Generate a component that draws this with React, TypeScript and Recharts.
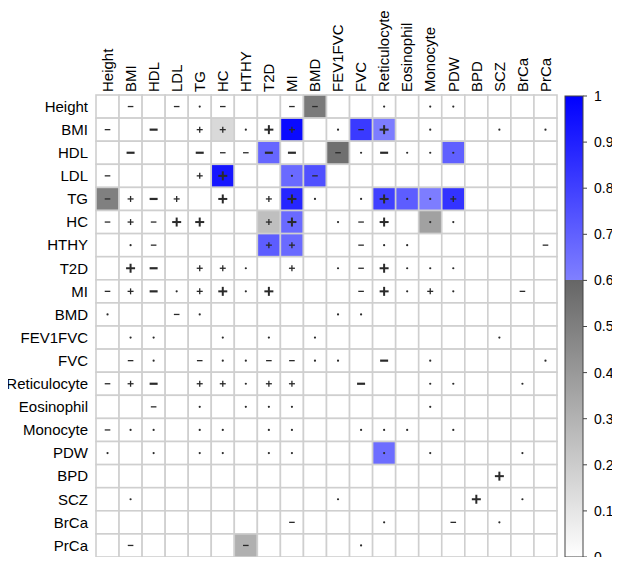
import React from 'react'
import { ScatterChart, Scatter, XAxis, YAxis } from 'recharts'

const traits = [
  'Height', 'BMI', 'HDL', 'LDL', 'TG', 'HC', 'HTHY', 'T2D', 'MI', 'BMD',
  'FEV1FVC', 'FVC', 'Reticulocyte', 'Eosinophil', 'Monocyte', 'PDW', 'BPD', 'SCZ', 'BrCa', 'PrCa',
]

// one string per row, one char per column
// P / p = big / small plus, M / m = big / small minus, . = dot, _ = nothing
const signs = [
  '_m_m.m__mm__._..____',
  'm_M_pp.Pp_.mP_.__._.',
  '_M__MmmMM_m.M...____',
  'm___pP__.m__________',
  'mpMp_P_pP._.P..p____',
  'mpmPP__pP_.mP_..____',
  '_.m____pp__m.._____m',
  '_PM_pp._p_.mP...____',
  'mpM.pP.P___mP.p.__m_',
  '.__m._____..________',
  '_..__._._._______.__',
  '_m._m..mm.._M_.____.',
  'mpM_pp.pp__M__..__._',
  '__m_._..._____._____',
  'm.._.._..__..._.____',
  '._._.._..___._.___._',
  '_________________P__',
  '_.________._____P_._',
  '________m___.__m_.__',
  '_m____m____.________',
]

// [row, col, value] for the shaded cells, everything else is 0
const shaded: [number, number, number][] = [
  [0, 9, 0.52], [1, 5, 0.15], [1, 8, 0.97], [1, 11, 0.82], [1, 12, 0.61],
  [2, 7, 0.68], [2, 10, 0.56], [2, 15, 0.7], [3, 5, 0.93], [3, 8, 0.67],
  [3, 9, 0.75], [4, 0, 0.5], [4, 8, 0.88], [4, 12, 0.8], [4, 13, 0.71],
  [4, 14, 0.61], [4, 15, 0.84], [5, 7, 0.25], [5, 8, 0.67], [5, 14, 0.37],
  [6, 7, 0.71], [6, 8, 0.67], [15, 12, 0.66], [19, 6, 0.31],
]

const colorTicks = [0, 0.1, 0.2, 0.3, 0.4, 0.5, 0.6, 0.7, 0.8, 0.9, 1]

const W = 620
const H = 565
const LEFT = 96
const TOP = 95
const PLOT_W = 461
const PLOT_H = 462
const CELL_W = PLOT_W / traits.length
const CELL_H = PLOT_H / traits.length

const cellColor = (v: number) => {
  if (v <= 0) return '#ffffff'
  if (v < 0.6) {
    const g = Math.round(255 - (v / 0.6) * 153)
    return `rgb(${g},${g},${g})`
  }
  const c = Math.round(((1 - v) / 0.4) * 128)
  return `rgb(${c},${c},255)`
}

const cells: { x: number; y: number; v: number; s: string }[] = []
traits.forEach((_, r) => {
  traits.forEach((__, c) => {
    const hit = shaded.find(d => d[0] === r && d[1] === c)
    cells.push({ x: c + 0.5, y: r + 0.5, v: hit ? hit[2] : 0, s: signs[r][c] })
  })
})

const centers = traits.map((_, i) => i + 0.5)

const Mark = ({ s, cx, cy }: { s: string; cx: number; cy: number }) => {
  const ink = '#2a2a2a'
  if (s === 'P' || s === 'p') {
    const a = s === 'P' ? 4.5 : 3
    const w = s === 'P' ? 2 : 1.3
    return (
      <g stroke={ink} strokeWidth={w}>
        <line x1={cx - a} y1={cy} x2={cx + a} y2={cy} />
        <line x1={cx} y1={cy - a} x2={cx} y2={cy + a} />
      </g>
    )
  }
  if (s === 'M' || s === 'm') {
    const a = s === 'M' ? 4 : 2.8
    const w = s === 'M' ? 2.2 : 1.3
    return <line x1={cx - a} y1={cy} x2={cx + a} y2={cy} stroke={ink} strokeWidth={w} />
  }
  if (s === '.') return <circle cx={cx} cy={cy} r={1.1} fill={ink} />
  return null
}

const HeatCell = (props: any) => {
  const { cx, cy, payload } = props
  if (cx == null || cy == null) return null
  return (
    <g>
      <rect
        x={cx - CELL_W / 2}
        y={cy - CELL_H / 2}
        width={CELL_W}
        height={CELL_H}
        fill={cellColor(payload.v)}
        stroke="#cfcfcf"
        strokeWidth={1.6}
      />
      <Mark s={payload.s} cx={cx} cy={cy} />
    </g>
  )
}

const TopTick = ({ x, y, payload }: any) => (
  <text
    transform={`translate(${x},${y + 5}) rotate(-90)`}
    dy="0.35em"
    textAnchor="start"
    fontSize={15}
    fill="#000"
  >
    {traits[Math.floor(payload.value)]}
  </text>
)

const ColorBar = () => {
  const x = 565
  const w = 18
  const y0 = TOP + 1
  const y1 = TOP + PLOT_H
  const pos = (v: number) => y1 - v * (y1 - y0)
  return (
    <svg width={W} height={H} style={{ position: 'absolute', left: 0, top: 0, pointerEvents: 'none' }}>
      <defs>
        <linearGradient id="cbar" x1="0" y1="0" x2="0" y2="1">
          <stop offset="0" stopColor="#0000ff" />
          <stop offset="0.4" stopColor="#8080ff" />
          <stop offset="0.4" stopColor="#666666" />
          <stop offset="1" stopColor="#ffffff" />
        </linearGradient>
      </defs>
      <rect x={x} y={y0} width={w} height={y1 - y0} fill="url(#cbar)" stroke="#444" strokeWidth={1} />
      {colorTicks.map(t => (
        <g key={t}>
          <line x1={x + w} y1={pos(t)} x2={x + w + 4} y2={pos(t)} stroke="#444" strokeWidth={1} />
          <text x={x + w + 11} y={pos(t)} dy="0.35em" fontSize={14} fill="#000">
            {String(t)}
          </text>
        </g>
      ))}
    </svg>
  )
}

export default function App() {
  return (
    <div
      style={{
        position: 'relative',
        width: W,
        height: H,
        margin: -8,
        overflow: 'hidden',
        background: '#fff',
        fontFamily: '"Liberation Sans", Arial, sans-serif',
      }}
    >
      <ScatterChart
        width={W}
        height={H}
        margin={{ top: TOP - 80, right: W - LEFT - PLOT_W, bottom: H - TOP - PLOT_H, left: LEFT - 80 }}
      >
        <XAxis
          type="number"
          dataKey="x"
          orientation="top"
          domain={[0, traits.length]}
          ticks={centers}
          interval={0}
          height={80}
          axisLine={false}
          tickLine={false}
          tick={<TopTick />}
        />
        <YAxis
          type="number"
          dataKey="y"
          reversed
          domain={[0, traits.length]}
          ticks={centers}
          interval={0}
          width={80}
          axisLine={false}
          tickLine={false}
          tick={{ fontSize: 15, fill: '#000' }}
          tickFormatter={(v: number) => traits[Math.floor(v)]}
        />
        <Scatter data={cells} shape={HeatCell} isAnimationActive={false} />
      </ScatterChart>
      <ColorBar />
    </div>
  )
}
